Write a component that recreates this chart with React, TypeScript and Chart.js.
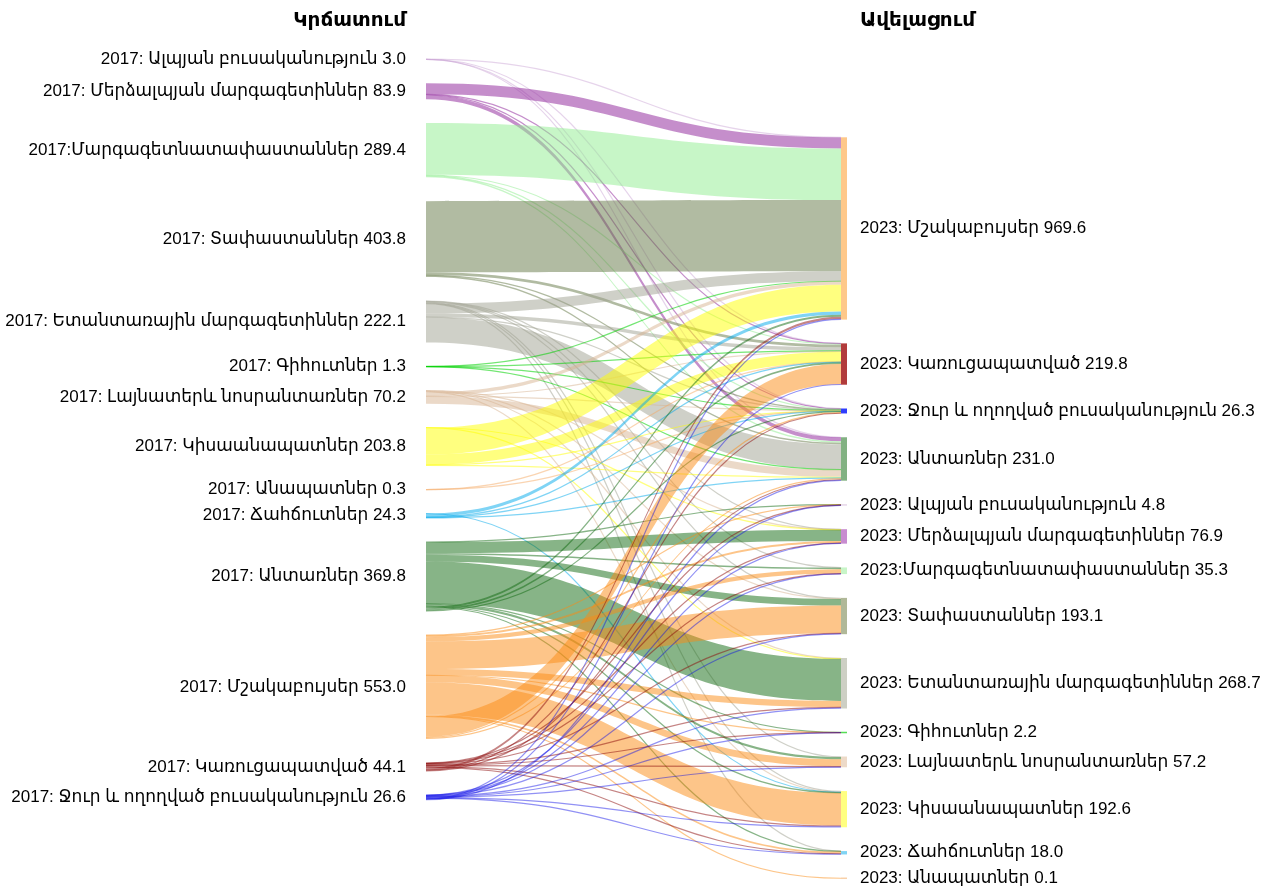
import React, { useEffect, useRef } from "react";
import { Chart, registerables } from "chart.js";

Chart.register(...registerables);

// ---------- data ----------
const titleLeft = "Կրճատում";
const titleRight = "Ավելացում";

const leftNames = [
  "2017: Ալպյան բուսականություն",
  "2017: Մերձալպյան մարգագետիններ",
  "2017:Մարգագետնատափաստաններ",
  "2017: Տափաստաններ",
  "2017: Ետանտառային մարգագետիններ",
  "2017: Գիհուտներ",
  "2017: Լայնատերև նոսրանտառներ",
  "2017: Կիսաանապատներ",
  "2017: Անապատներ",
  "2017: Ճահճուտներ",
  "2017: Անտառներ",
  "2017: Մշակաբույսեր",
  "2017: Կառուցապատված",
  "2017: Ջուր և ողողված բուսականություն",
];
const leftValues = [3.0, 83.9, 289.4, 403.8, 222.1, 1.3, 70.2, 203.8, 0.3, 24.3, 369.8, 553.0, 44.1, 26.6];

const rightNames = [
  "2023: Մշակաբույսեր",
  "2023: Կառուցապատված",
  "2023: Ջուր և ողողված բուսականություն",
  "2023: Անտառներ",
  "2023: Ալպյան բուսականություն",
  "2023: Մերձալպյան մարգագետիններ",
  "2023:Մարգագետնատափաստաններ",
  "2023: Տափաստաններ",
  "2023: Ետանտառային մարգագետիններ",
  "2023: Գիհուտներ",
  "2023: Լայնատերև նոսրանտառներ",
  "2023: Կիսաանապատներ",
  "2023: Ճահճուտներ",
  "2023: Անապատներ",
];
const rightValues = [969.6, 219.8, 26.3, 231.0, 4.8, 76.9, 35.3, 193.1, 268.7, 2.2, 57.2, 192.6, 18.0, 0.1];

// flows: one row per 2017 class, columns in the order of rightNames
const flowsAlpine = [1.1, 0.7, 0.6, 0.6, 0, 0, 0, 0, 0, 0, 0, 0, 0, 0];
const flowsSubalpine = [58, 2, 3.4, 20.5, 0, 0, 0, 0, 0, 0, 0, 0, 0, 0];
const flowsMeadowSteppe = [275, 4, 2, 8.4, 0, 0, 0, 0, 0, 0, 0, 0, 0, 0];
const flowsSteppe = [378.5, 15, 2.5, 7.8, 0, 0, 0, 0, 0, 0, 0, 0, 0, 0];
const flowsPostForest = [53, 18, 1.5, 135.1, 0, 2, 1, 4.5, 0, 0, 2.5, 3.9, 0.6, 0];
const flowsJuniper = [0.4, 0.3, 0.3, 0.3, 0, 0, 0, 0, 0, 0, 0, 0, 0, 0];
const flowsOpenWoodland = [18, 4, 1, 38, 0, 1, 0, 1.5, 3.5, 0, 0, 3.2, 0, 0];
const flowsSemiDesert = [142, 54.5, 1.6, 4.2, 0, 0.5, 0, 0, 1, 0, 0, 0, 0, 0];
const flowsDesert = [0, 0.2, 0.1, 0, 0, 0, 0, 0, 0, 0, 0, 0, 0, 0];
const flowsWetland = [18, 2.3, 1.5, 2, 0, 0, 0, 0, 0, 0, 0, 0.5, 0, 0];
const flowsForest = [10, 8.3, 5, 0, 2, 59.4, 8, 34.9, 223.7, 1.2, 12, 3, 2.3, 0];
const flowsCrops = [0, 108.2, 4.8, 7, 0.8, 10, 23.3, 146.7, 32.5, 0.3, 37.7, 171.6, 10, 0.1];
const flowsBuiltUp = [12.6, 0, 2, 4.1, 1.5, 2, 1.5, 3, 5, 0.4, 3, 6.4, 2.6, 0];
const flowsWater = [3, 2.3, 0, 3, 0.5, 2, 1.5, 2.5, 3, 0.3, 2, 4, 2.5, 0];

const flowRows = [
  flowsAlpine, flowsSubalpine, flowsMeadowSteppe, flowsSteppe, flowsPostForest,
  flowsJuniper, flowsOpenWoodland, flowsSemiDesert, flowsDesert, flowsWetland,
  flowsForest, flowsCrops, flowsBuiltUp, flowsWater,
];

// order in which each source stacks its outgoing links (indices of rightNames)
const sourceLinkOrder = [4, 5, 6, 7, 8, 9, 10, 11, 12, 13, 0, 1, 2, 3];

// ---------- styles ----------
const flowColors = [
  [200, 160, 210, 0.45],
  [150, 50, 160, 0.55],
  [144, 238, 144, 0.5],
  [100, 120, 70, 0.5],
  [160, 162, 145, 0.5],
  [0, 210, 0, 0.55],
  [215, 180, 145, 0.5],
  [255, 255, 0, 0.5],
  [245, 170, 100, 0.5],
  [0, 170, 235, 0.5],
  [15, 105, 15, 0.5],
  [252, 140, 20, 0.5],
  [140, 10, 10, 0.5],
  [10, 10, 230, 0.45],
];
const barColors = [
  "#fec88a", "#b13b3b", "#2f3dfd", "#82b182", "#e6d6ea", "#c88cd0", "#c8f5c8",
  "#b0b898", "#cdcfc4", "#55dd55", "#eddac8", "#ffff80", "#80d4f4", "#f8d0a8",
];

const NODE_PAD = 126.6;
const LEFT_OFFSET = 0;
const RIGHT_OFFSET = 416.5;
const Y_MAX = 4358;
const BAR_X0 = 415 / 421;
const FONT = '17px Arial, "Liberation Sans", "DejaVu Sans", sans-serif';
const TITLE_FONT = 'bold 20px Arial, "Liberation Sans", "DejaVu Sans", sans-serif';

const rgba = (c: number[], aMul = 1) =>
  `rgba(${c[0]},${c[1]},${c[2]},${Math.min(1, c[3] * aMul)})`;

const sankeyPlugin = {
  id: "sankeyDraw",
  afterDatasetsDraw(chart: any) {
    const ctx: CanvasRenderingContext2D = chart.ctx;
    const xs = chart.scales.x;
    const ys = chart.scales.y;

    const leftY0: number[] = [];
    let acc = LEFT_OFFSET;
    leftValues.forEach((v) => {
      leftY0.push(acc);
      acc += v + NODE_PAD;
    });
    const rightY0: number[] = [];
    acc = RIGHT_OFFSET;
    rightValues.forEach((v) => {
      rightY0.push(acc);
      acc += v + NODE_PAD;
    });

    type L = { s: number; t: number; v: number; sy: number; ty: number };
    const links: L[] = [];
    const srcOff = leftY0.slice();
    flowRows.forEach((row, s) => {
      sourceLinkOrder.forEach((t) => {
        const v = row[t];
        if (!v) return;
        links.push({ s, t, v, sy: srcOff[s], ty: 0 });
        srcOff[s] += v;
      });
    });
    const tgtOff = rightY0.slice();
    for (let t = 0; t < rightValues.length; t++) {
      for (let s = 0; s < leftValues.length; s++) {
        const l = links.find((k) => k.s === s && k.t === t);
        if (!l) continue;
        l.ty = tgtOff[t];
        tgtOff[t] += l.v;
      }
    }

    const x0 = xs.getPixelForValue(0);
    const x1 = xs.getPixelForValue(BAR_X0);
    const x2 = xs.getPixelForValue(1);
    const xm = (x0 + x1) / 2;

    ctx.save();
    links.forEach((l) => {
      const a0 = ys.getPixelForValue(l.sy);
      const a1 = ys.getPixelForValue(l.sy + l.v);
      const b0 = ys.getPixelForValue(l.ty);
      const b1 = ys.getPixelForValue(l.ty + l.v);
      const h = a1 - a0;
      if (h < 1.2) {
        const ca = (a0 + a1) / 2;
        const cb = (b0 + b1) / 2;
        ctx.beginPath();
        ctx.moveTo(x0, ca);
        ctx.bezierCurveTo(xm, ca, xm, cb, x1, cb);
        ctx.strokeStyle = rgba(flowColors[l.s]);
        ctx.lineWidth = 1.2;
        ctx.stroke();
      } else {
        ctx.beginPath();
        ctx.moveTo(x0, a0);
        ctx.bezierCurveTo(xm, a0, xm, b0, x1, b0);
        ctx.lineTo(x1, b1);
        ctx.bezierCurveTo(xm, b1, xm, a1, x0, a1);
        ctx.closePath();
        ctx.fillStyle = rgba(flowColors[l.s]);
        ctx.fill();
      }
    });

    // right node bars
    rightValues.forEach((v, i) => {
      const p0 = ys.getPixelForValue(rightY0[i]);
      const p1 = ys.getPixelForValue(rightY0[i] + v);
      const h = Math.max(p1 - p0, 1.5);
      const mid = (p0 + p1) / 2;
      ctx.fillStyle = barColors[i];
      ctx.fillRect(x1, mid - h / 2, x2 - x1, h);
    });

    // labels
    ctx.fillStyle = "#000";
    ctx.font = FONT;
    ctx.textBaseline = "middle";
    ctx.textAlign = "right";
    leftValues.forEach((v, i) => {
      const mid = ys.getPixelForValue(leftY0[i] + v / 2);
      ctx.fillText(`${leftNames[i]} ${v.toFixed(1)}`, x0 - 20, mid);
    });
    ctx.textAlign = "left";
    rightValues.forEach((v, i) => {
      const mid = ys.getPixelForValue(rightY0[i] + v / 2);
      ctx.fillText(`${rightNames[i]} ${v.toFixed(1)}`, x2 + 13, mid);
    });

    ctx.font = TITLE_FONT;
    ctx.textAlign = "right";
    ctx.fillText(titleLeft, x0 - 20, 20);
    ctx.textAlign = "left";
    ctx.fillText(titleRight, x2 + 13, 20);
    ctx.restore();
  },
};

export default function App() {
  const ref = useRef<HTMLCanvasElement | null>(null);
  useEffect(() => {
    if (!ref.current) return;
    const chart = new Chart(ref.current, {
      type: "scatter",
      data: { datasets: [{ data: [] }] },
      options: {
        animation: false,
        responsive: false,
        devicePixelRatio: 1,
        layout: { padding: { left: 426, right: 420, top: 59, bottom: 7.7 } },
        plugins: { legend: { display: false }, tooltip: { enabled: false } },
        scales: {
          x: { type: "linear", min: 0, max: 1, display: false },
          y: { type: "linear", min: 0, max: Y_MAX, reverse: true, display: false },
        },
      },
      plugins: [sankeyPlugin],
    });
    return () => chart.destroy();
  }, []);
  return (
    <canvas
      ref={ref}
      width={1267}
      height={886}
      style={{ position: "absolute", left: 0, top: 0, width: 1267, height: 886 }}
    />
  );
}
